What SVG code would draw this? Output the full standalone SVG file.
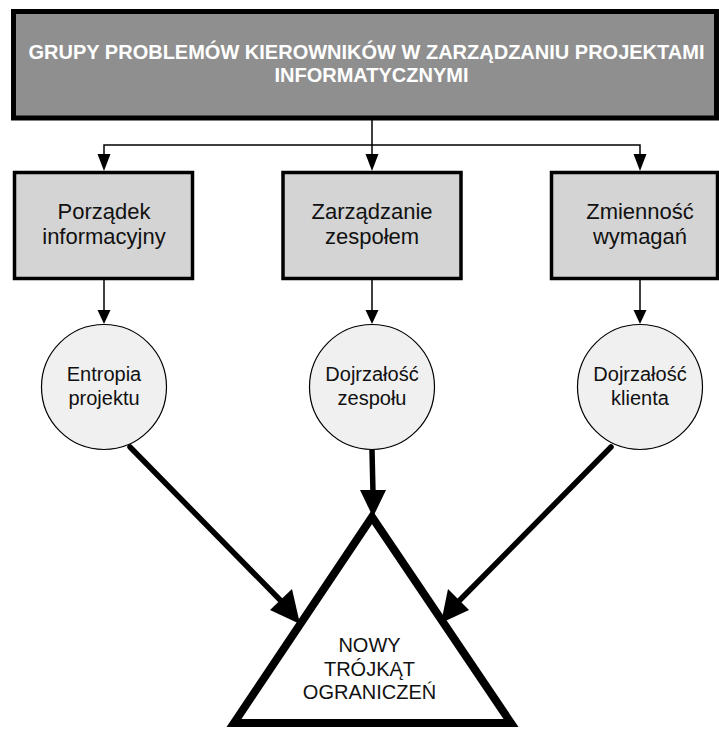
<svg xmlns="http://www.w3.org/2000/svg" width="719" height="730" viewBox="0 0 719 730">
  <style>
    .title { font-family: "Liberation Sans", Arial, sans-serif; font-weight: bold; font-size: 20px; fill: #ffffff; text-anchor: middle; }
    .lbl { font-family: "Liberation Sans", Arial, sans-serif; fill: #111111; text-anchor: middle; }
    .box { fill: #d4d4d4; stroke: #000000; stroke-width: 3.5; }
    .circ { fill: #f0f0f0; stroke: #000000; stroke-width: 1.2; }
    .thin { fill: none; stroke: #000000; stroke-width: 1.5; }
    .thick { fill: none; stroke: #000000; stroke-width: 5.5; stroke-linecap: round; }
    .head { fill: #000000; }
  </style>
  <rect width="719" height="730" fill="#ffffff"/>

  <!-- connectors -->
  <g id="connectors">
    <!-- header to the three groups -->
    <polyline class="thin" points="372,120 372,145"/>
    <polyline class="thin" points="104,155 104,145 640,145 640,155"/>
    <line class="thin" x1="372" y1="145" x2="372" y2="155"/>
    <polygon class="head" points="97.5,154 110.5,154 104,171"/>
    <polygon class="head" points="365.5,154 378.5,154 372,171"/>
    <polygon class="head" points="633.5,154 646.5,154 640,171"/>
    <!-- groups to their factors -->
    <line class="thin" x1="104" y1="280" x2="104" y2="311"/>
    <line class="thin" x1="372" y1="280" x2="372" y2="311"/>
    <line class="thin" x1="640" y1="280" x2="640" y2="311"/>
    <polygon class="head" points="97.5,310 110.5,310 104,324"/>
    <polygon class="head" points="365.5,310 378.5,310 372,324"/>
    <polygon class="head" points="633.5,310 646.5,310 640,324"/>
    <!-- factors to the triangle -->
    <line class="thick" x1="130" y1="447" x2="283" y2="603"/>
    <polygon class="head" points="270,610 292,589 300,624"/>
    <line class="thick" x1="372" y1="450" x2="373" y2="493"/>
    <polygon class="head" points="360,490 386,490 373,517"/>
    <line class="thick" x1="611" y1="447" x2="457" y2="603"/>
    <polygon class="head" points="469,610 448,589 441,623"/>
  </g>

  <!-- header -->
  <g id="header">
    <rect x="13.5" y="11.5" width="703" height="106.5" fill="#8f8f8f" stroke="#000000" stroke-width="5"/>
    <text class="title" x="366.5" y="59">GRUPY PROBLEMÓW KIEROWNIKÓW W ZARZĄDZANIU PROJEKTAMI</text>
    <text class="title" x="371.5" y="82">INFORMATYCZNYMI</text>
  </g>

  <!-- problem groups -->
  <g id="porzadek">
    <rect class="box" x="14.5" y="172.5" width="178" height="106"/>
    <text class="lbl" font-size="22" x="104" y="219">Porządek</text>
    <text class="lbl" font-size="22" x="104" y="244">informacyjny</text>
  </g>
  <g id="zarzadzanie">
    <rect class="box" x="283" y="172.5" width="178" height="106"/>
    <text class="lbl" font-size="22" x="372" y="219">Zarządzanie</text>
    <text class="lbl" font-size="22" x="372" y="244">zespołem</text>
  </g>
  <g id="zmiennosc">
    <rect class="box" x="551.5" y="172.5" width="166" height="106"/>
    <text class="lbl" font-size="22" x="640" y="219">Zmienność</text>
    <text class="lbl" font-size="22" x="640" y="244">wymagań</text>
  </g>

  <!-- factors -->
  <g id="entropia">
    <circle class="circ" cx="104" cy="387" r="62.5"/>
    <text class="lbl" font-size="20" x="104" y="381">Entropia</text>
    <text class="lbl" font-size="20" x="104" y="405">projektu</text>
  </g>
  <g id="dojrzalosc-zespolu">
    <circle class="circ" cx="372" cy="387" r="62.5"/>
    <text class="lbl" font-size="20" x="372" y="381">Dojrzałość</text>
    <text class="lbl" font-size="20" x="372" y="405">zespołu</text>
  </g>
  <g id="dojrzalosc-klienta">
    <circle class="circ" cx="640" cy="387" r="62.5"/>
    <text class="lbl" font-size="20" x="640" y="381">Dojrzałość</text>
    <text class="lbl" font-size="20" x="640" y="405">klienta</text>
  </g>

  <!-- constraint triangle -->
  <g id="trojkat">
    <polygon points="372,517 234,723 511,723" fill="#ffffff" stroke="#000000" stroke-width="8" stroke-linejoin="miter"/>
    <text class="lbl" font-size="20" x="369.5" y="652">NOWY</text>
    <text class="lbl" font-size="20" x="369.5" y="675.5">TRÓJKĄT</text>
    <text class="lbl" font-size="20" x="369.5" y="699">OGRANICZEŃ</text>
  </g>
</svg>
